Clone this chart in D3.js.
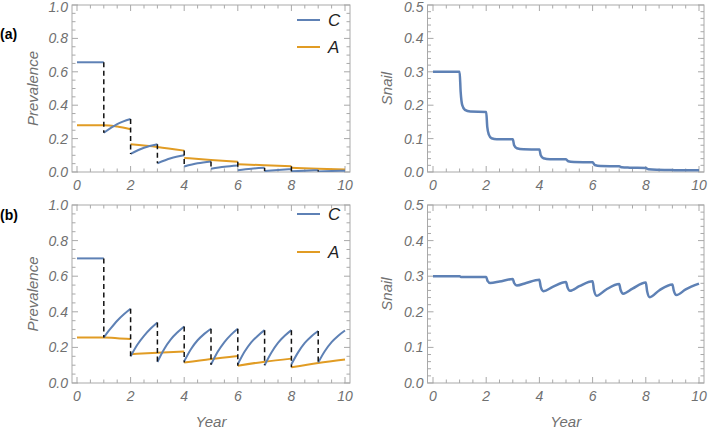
<!DOCTYPE html>
<html><head><meta charset="utf-8">
<script src="https://cdn.jsdelivr.net/npm/d3@7"></script>
<style>body{margin:0;background:#fff}svg{display:block}</style>
</head><body>
<svg id="c" width="711" height="429"></svg>
<script>
// ---------- DATA ----------
const xTicks = [0, 2, 4, 6, 8, 10];
const prevTicks = [0.0, 0.2, 0.4, 0.6, 0.8, 1.0];
const snailTicks = [0.0, 0.1, 0.2, 0.3, 0.4, 0.5];
const seriesNames = ["C", "A"];
const panelLabels = ["(a)", "(b)"];

// Panel (a) prevalence, C (children) – piecewise segments [year, value]
const aC = [
  [[0,0.657],[1,0.657]],
  [[1,0.235],[1.5,0.287],[2,0.317]],
  [[2,0.108],[2.5,0.145],[3,0.166]],
  [[3,0.052],[3.5,0.082],[4,0.100]],
  [[4,0.033],[4.5,0.052],[5,0.063]],
  [[5,0.019],[5.5,0.031],[6,0.039]],
  [[6,0.011],[6.5,0.020],[7,0.025]],
  [[7,0.006],[7.5,0.012],[8,0.017]],
  [[8,0.004],[8.5,0.008],[9,0.011]],
  [[9,0.003],[9.5,0.006],[10,0.008]]
];
// Panel (a) prevalence, A (adults)
const aA = [
  [[0,0.280],[1,0.280],[1.2,0.279],[1.5,0.272],[2,0.256]],
  [[2,0.166],[3,0.150],[4,0.128]],
  [[4,0.084],[5,0.072],[6,0.061]],
  [[6,0.047],[7,0.040],[8,0.034]],
  [[8,0.025],[9,0.019],[10,0.015]]
];
// Panel (b) prevalence, C
const bC = [
  [[0,0.700],[1,0.700]],
  [[1,0.256],[1.25,0.305],[1.5,0.350],[1.75,0.386],[2,0.417]],
  [[2,0.150],[2.25,0.215],[2.5,0.265],[2.75,0.306],[3,0.340]],
  [[3,0.118],[3.25,0.190],[3.5,0.245],[3.75,0.285],[4,0.318]],
  [[4,0.122],[4.25,0.190],[4.5,0.240],[4.75,0.276],[5,0.305]],
  [[5,0.103],[5.25,0.175],[5.5,0.230],[5.75,0.272],[6,0.305]],
  [[6,0.105],[6.25,0.175],[6.5,0.228],[6.75,0.266],[7,0.297]],
  [[7,0.100],[7.25,0.170],[7.5,0.225],[7.75,0.265],[8,0.297]],
  [[8,0.105],[8.25,0.172],[8.5,0.225],[8.75,0.263],[9,0.292]],
  [[9,0.115],[9.25,0.180],[9.5,0.230],[9.75,0.266],[10,0.295]]
];
// Panel (b) prevalence, A
const bA = [
  [[0,0.255],[1,0.255],[1.5,0.252],[2,0.247]],
  [[2,0.162],[3,0.170],[4,0.177]],
  [[4,0.115],[5,0.135],[6,0.152]],
  [[6,0.097],[7,0.120],[8,0.137]],
  [[8,0.088],[9,0.112],[10,0.132]]
];
// Snail prevalence
const aSnail = [[0,0.3],[1,0.3],[1.04,0.24],[1.1,0.2],[1.2,0.186],[1.4,0.181],[2,0.18],
  [2.04,0.135],[2.1,0.112],[2.2,0.101],[2.4,0.098],[3,0.098],
  [3.05,0.08],[3.15,0.071],[3.4,0.068],[4,0.067],
  [4.05,0.05],[4.15,0.041],[4.4,0.038],[5,0.038],
  [5.08,0.032],[5.3,0.03],[6,0.029],
  [6.08,0.021],[6.3,0.018],[7,0.017],
  [7.1,0.014],[7.4,0.013],[8,0.012],
  [8.1,0.008],[8.4,0.0065],[9,0.006],
  [9.15,0.005],[10,0.005]];
const bSnail = [[0,0.3],[1,0.3],[1.05,0.298],[2,0.298],
  [2.05,0.287],[2.15,0.281],[2.5,0.285],[3,0.292],
  [3.05,0.281],[3.15,0.274],[3.5,0.281],[4,0.29],
  [4.05,0.27],[4.15,0.258],[4.5,0.27],[5,0.284],
  [5.05,0.27],[5.15,0.259],[5.5,0.272],[6,0.286],
  [6.05,0.262],[6.15,0.245],[6.5,0.262],[7,0.278],
  [7.05,0.262],[7.15,0.251],[7.5,0.265],[8,0.282],
  [8.05,0.258],[8.15,0.241],[8.5,0.26],[9,0.277],
  [9.05,0.26],[9.15,0.247],[9.5,0.263],[10,0.279]];
const treatYears = [1,2,3,4,5,6,7,8,9];

// ---------- DRAW ----------
const svg = d3.select("#c");
const blue = "#5E81B5", orange = "#E19C24", frameCol = "#a9a9a9", tickTxt = "#707070";
const FONT = "'Liberation Sans', Arial, sans-serif";

function panel(o) {
  const x = d3.scaleLinear().domain([0, 10]).range([o.x0, o.x1]);
  const y = d3.scaleLinear().domain([0, o.ymax]).range([o.yb, o.yt]);
  const g = svg.append("g");
  g.append("rect").attr("x", o.fl).attr("y", o.yt).attr("width", o.fr - o.fl).attr("height", o.yb - o.yt)
    .attr("fill", "none").attr("stroke", frameCol).attr("stroke-width", 1);
  const xMinor = d3.range(0, 10.001, 0.5);
  xMinor.forEach(v => {
    const major = Math.abs(v / 2 - Math.round(v / 2)) < 1e-6;
    const L = major ? 6 : 3.5;
    g.append("line").attr("x1", x(v)).attr("x2", x(v)).attr("y1", o.yb).attr("y2", o.yb - L).attr("stroke", frameCol);
    g.append("line").attr("x1", x(v)).attr("x2", x(v)).attr("y1", o.yt).attr("y2", o.yt + L).attr("stroke", frameCol);
  });
  const yMinor = d3.range(0, o.ymax + 1e-6, o.minor);
  yMinor.forEach(v => {
    const major = o.ticks.some(t => Math.abs(t - v) < 1e-6);
    const L = major ? 6 : 3.5;
    g.append("line").attr("x1", o.fl).attr("x2", o.fl + L).attr("y1", y(v)).attr("y2", y(v)).attr("stroke", frameCol);
    g.append("line").attr("x1", o.fr).attr("x2", o.fr - L).attr("y1", y(v)).attr("y2", y(v)).attr("stroke", frameCol);
  });
  g.selectAll(".xl").data(xTicks).join("text")
    .attr("x", d => x(d)).attr("y", o.yb + 18).attr("text-anchor", "middle")
    .attr("font-family", FONT).attr("font-style", "italic").attr("font-size", 14).attr("fill", tickTxt)
    .text(d => d);
  g.selectAll(".yl").data(o.ticks).join("text")
    .attr("x", o.fl - 4).attr("y", d => Math.max(y(d) + 5, 11.5)).attr("text-anchor", "end")
    .attr("font-family", FONT).attr("font-style", "italic").attr("font-size", 14).attr("fill", tickTxt)
    .text(d => d.toFixed(1));
  g.append("text").attr("transform", `translate(${o.ylx},${(o.yt + o.yb) / 2}) rotate(-90)`)
    .attr("text-anchor", "middle").attr("font-family", FONT).attr("font-style", "italic")
    .attr("font-size", 15).attr("fill", tickTxt).text(o.ytitle);
  if (o.xtitle) {
    g.append("text").attr("x", (o.fl + o.fr) / 2).attr("y", o.yb + 44).attr("text-anchor", "middle")
      .attr("font-family", FONT).attr("font-style", "italic").attr("font-size", 15).attr("fill", tickTxt).text(o.xtitle);
  }
  return { g, x, y };
}

function prevPanel(o, C, A, legendGap) {
  const { g, x, y } = panel(o);
  const line = d3.line().x(d => x(d[0])).y(d => y(d[1])).curve(d3.curveMonotoneX);
  const clipId = "clip" + o.yt + "_" + Math.round(o.fl);
  g.append("clipPath").attr("id", clipId).append("rect")
    .attr("x", o.fl).attr("y", o.yt).attr("width", o.fr - o.fl).attr("height", o.yb - o.yt);
  const pg = g.append("g").attr("clip-path", `url(#${clipId})`);
  pg.selectAll(".a").data(A).join("path").attr("d", line).attr("fill", "none")
    .attr("stroke", orange).attr("stroke-width", 2);
  pg.selectAll(".c").data(C).join("path").attr("d", line).attr("fill", "none")
    .attr("stroke", blue).attr("stroke-width", 2);
  const valAt = (segs, t, side) => {
    const out = [];
    segs.forEach(s => {
      if (side === "pre" && Math.abs(s[s.length - 1][0] - t) < 1e-9) out.push(s[s.length - 1][1]);
      if (side === "post" && Math.abs(s[0][0] - t) < 1e-9) out.push(s[0][1]);
    });
    return out;
  };
  const jumps = treatYears.map(t => {
    const pre = valAt(C, t, "pre").concat(valAt(A, t, "pre"));
    const post = valAt(C, t, "post").concat(valAt(A, t, "post"));
    return { t, hi: d3.max(pre), lo: d3.min(post) };
  });
  pg.selectAll(".j").data(jumps).join("line")
    .attr("x1", d => x(d.t)).attr("x2", d => x(d.t))
    .attr("y1", d => y(d.hi)).attr("y2", d => y(d.lo))
    .attr("stroke", "#111").attr("stroke-width", 1.5).attr("stroke-dasharray", "5,3.5");
  const lx0 = 297, lx1 = 320;
  [[seriesNames[0], blue], [seriesNames[1], orange]].forEach((s, i) => {
    const ly = o.legY + i * legendGap;
    g.append("line").attr("x1", lx0).attr("x2", lx1).attr("y1", ly).attr("y2", ly)
      .attr("stroke", s[1]).attr("stroke-width", 2);
    g.append("text").attr("x", 328).attr("y", ly + 6).attr("font-family", FONT)
      .attr("font-style", "italic").attr("font-size", 17).attr("fill", "#222").text(s[0]);
  });
}

function snailPanel(o, data) {
  const { g, x, y } = panel(o);
  const line = d3.line().x(d => x(d[0])).y(d => y(d[1])).curve(d3.curveMonotoneX);
  g.append("path").datum(data).attr("d", line).attr("fill", "none")
    .attr("stroke", blue).attr("stroke-width", 2.5);
}

const L = { x0: 77, x1: 345, fl: 72, fr: 350, ylx: 38, ymax: 1, ticks: prevTicks, minor: 0.05, ytitle: "Prevalence" };
const R = { x0: 433, x1: 699, fl: 427.5, fr: 704, ylx: 392, ymax: 0.5, ticks: snailTicks, minor: 0.02, ytitle: "Snail" };

prevPanel(Object.assign({}, L, { yt: 5, yb: 172, legY: 20 }), aC, aA, 27);
prevPanel(Object.assign({}, L, { yt: 205, yb: 383, legY: 214, xtitle: "Year" }), bC, bA, 38);
snailPanel(Object.assign({}, R, { yt: 5, yb: 172 }), aSnail);
snailPanel(Object.assign({}, R, { yt: 205, yb: 383, xtitle: "Year" }), bSnail);

svg.selectAll(".pl").data(panelLabels).join("text")
  .attr("x", 0).attr("y", (d, i) => i === 0 ? 39 : 220)
  .attr("font-family", FONT).attr("font-weight", "bold")
  .attr("font-size", 14).attr("fill", "#000").text(d => d);
</script>
</body></html>
